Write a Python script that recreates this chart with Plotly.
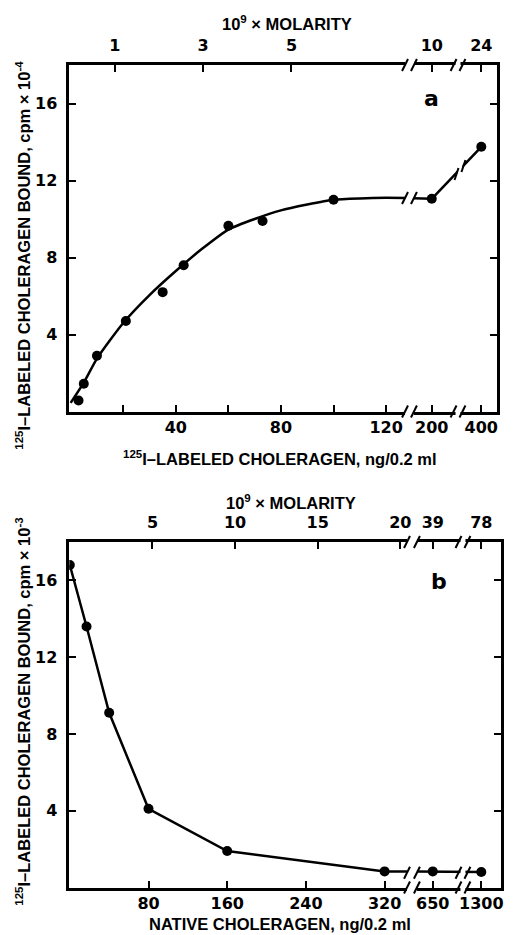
import math
import plotly.graph_objects as go

W, H = 514, 935

# ---------------- data ----------------
# Panel a: 125I-choleragen bound (cpm x 10^-4) vs. labelled choleragen added (ng/0.2 ml)
a_ng = [3, 5, 10, 21, 35, 43, 60, 73, 100, 200, 400]
a_bound = [0.57, 1.44, 2.9, 4.7, 6.2, 7.6, 9.65, 9.9, 11.0, 11.05, 13.75]

# drawn saturation curve of panel a
a_fit_ng = [0, 5, 10, 20, 30, 40, 50, 60, 70, 80, 90, 100, 110, 120, 200]
a_fit_bound = [0.45, 1.5, 2.75, 4.6, 6.05, 7.3, 8.45, 9.45, 10.0, 10.45, 10.75, 11.0, 11.07, 11.1, 11.05]

a_bottom_ticks = [40, 80, 120, 200, 400]
a_bottom_labels = ["40", "80", "120", "200", "400"]
a_bottom_minor = [20, 60, 100]
a_top_ng = [16.8, 50.4, 84, 200, 400]
a_top_molarity = ["1", "3", "5", "10", "24"]

# Panel b: 125I-choleragen bound (cpm x 10^-3) vs. native choleragen added (ng/0.2 ml)
b_ng = [0, 17, 40, 80, 160, 320, 650, 1300]
b_bound = [16.8, 13.6, 9.1, 4.1, 1.9, 0.84, 0.84, 0.81]

b_bottom_ticks = [80, 160, 240, 320, 650, 1300]
b_bottom_labels = ["80", "160", "240", "320", "650", "1300"]
b_top_ng = [84, 168, 252, 336, 650, 1300]
b_top_molarity = ["5", "10", "15", "20", "39", "78"]

y_ticks = [4, 8, 12, 16]
y_labels = ["4", "8", "12", "16"]

# ---------------- geometry (pixels in the 514 x 935 page) ----------------
def fx(px):
    return px / W


def fy(py):
    return 1 - py / H


A_TOP, A_BOT = 65, 411.5
B_TOP, B_BOT = 542, 887.5
A_SEG1, A_SEG2 = (69, 408), (417, 501)
B_SEG1, B_SEG2 = (69, 410), (420, 505)

A_RANGE1 = [-0.5, 127.2]
B_RANGE1 = [-0.5, 342.8]


def log_range(v0, p0, v1, p1, left, right):
    k = (p1 - p0) / (math.log10(v1) - math.log10(v0))
    return [math.log10(v0) - (p0 - left) / k, math.log10(v1) + (right - p1) / k]


A_RANGE2 = log_range(200, 435, 400, 485, *A_SEG2)
B_RANGE2 = log_range(650, 436, 1300, 485, *B_SEG2)
Y_RANGE = [0, 18]

BLACK = "black"
TICK_FONT = dict(family="DejaVu Sans", size=16, color=BLACK, weight="bold")
TITLE_FONT = dict(family="Liberation Sans", size=16.5, color=BLACK, weight="bold")


def x_axis(seg, rng, ticks, labels, side="bottom", anchor="y", typ="linear",
           overlaying=None, minor=None):
    ax = dict(
        domain=[fx(seg[0]), fx(seg[1])], range=rng, type=typ, side=side, anchor=anchor,
        tickmode="array", tickvals=ticks, ticktext=labels,
        showline=True, linecolor=BLACK, linewidth=2.5,
        ticks="inside", ticklen=7, tickwidth=2, tickcolor=BLACK,
        showgrid=False, zeroline=False, tickfont=TICK_FONT, fixedrange=True,
        ticklabelstandoff=0 if side == "bottom" else 5,
    )
    if minor:
        ax["minor"] = dict(tickmode="array", tickvals=minor, ticks="inside", ticklen=7,
                           tickwidth=2, tickcolor=BLACK, showgrid=False)
    if overlaying:
        ax["overlaying"] = overlaying
    return ax


def y_axis(top, bot, anchor, side="left", labels=True):
    return dict(
        domain=[fy(bot), fy(top)], range=Y_RANGE, anchor=anchor, side=side,
        tickmode="array", tickvals=y_ticks, ticktext=y_labels, showticklabels=labels,
        showline=True, linecolor=BLACK, linewidth=2.5,
        ticks="inside", ticklen=7, tickwidth=2, tickcolor=BLACK,
        showgrid=False, zeroline=False, tickfont=TICK_FONT, fixedrange=True,
        ticklabelstandoff=6,
    )


def split(xs, ys, cond):
    pts = [(x, y) for x, y in zip(xs, ys) if cond(x)]
    return [p[0] for p in pts], [p[1] for p in pts]


LINE = dict(color=BLACK, width=2.5)
MARK = dict(color=BLACK, size=10)

fig = go.Figure()

# ---- panel a ----
fig.add_trace(go.Scatter(x=a_fit_ng, y=a_fit_bound, mode="lines",
                         line=dict(color=BLACK, width=2.5, shape="spline", smoothing=0.6),
                         xaxis="x", yaxis="y", hoverinfo="skip"))
tx, ty = split(a_fit_ng, a_fit_bound, lambda v: v >= 110)
fig.add_trace(go.Scatter(x=tx, y=ty, mode="lines", line=LINE, xaxis="x2", yaxis="y2"))
px_, py_ = split(a_ng, a_bound, lambda v: v <= A_RANGE1[1])
fig.add_trace(go.Scatter(x=px_, y=py_, mode="markers", marker=MARK, xaxis="x", yaxis="y"))
px_, py_ = split(a_ng, a_bound, lambda v: v > A_RANGE1[1])
fig.add_trace(go.Scatter(x=px_, y=py_, mode="lines+markers", line=LINE, marker=MARK,
                         xaxis="x2", yaxis="y2"))
fig.add_trace(go.Scatter(x=[], y=[], xaxis="x3", yaxis="y"))
fig.add_trace(go.Scatter(x=[], y=[], xaxis="x4", yaxis="y2"))

# ---- panel b ----
fig.add_trace(go.Scatter(x=b_ng, y=b_bound, mode="lines+markers", line=LINE, marker=MARK,
                         xaxis="x5", yaxis="y3"))
px_, py_ = split(b_ng, b_bound, lambda v: v >= 320)
fig.add_trace(go.Scatter(x=px_, y=py_, mode="lines+markers", line=LINE, marker=MARK,
                         xaxis="x6", yaxis="y4"))
fig.add_trace(go.Scatter(x=[], y=[], xaxis="x7", yaxis="y3"))
fig.add_trace(go.Scatter(x=[], y=[], xaxis="x8", yaxis="y4"))


def part(ticks, labels, limit, upper):
    keep = [(t, l) for t, l in zip(ticks, labels) if (t > limit) == upper]
    return [k[0] for k in keep], [k[1] for k in keep]


a1_t, a1_l = part(a_bottom_ticks, a_bottom_labels, A_RANGE1[1], False)
a2_t, a2_l = part(a_bottom_ticks, a_bottom_labels, A_RANGE1[1], True)
at1, atl1 = part(a_top_ng, a_top_molarity, A_RANGE1[1], False)
at2, atl2 = part(a_top_ng, a_top_molarity, A_RANGE1[1], True)
b1_t, b1_l = part(b_bottom_ticks, b_bottom_labels, B_RANGE1[1], False)
b2_t, b2_l = part(b_bottom_ticks, b_bottom_labels, B_RANGE1[1], True)
bt1, btl1 = part(b_top_ng, b_top_molarity, B_RANGE1[1], False)
bt2, btl2 = part(b_top_ng, b_top_molarity, B_RANGE1[1], True)

layout = dict(
    width=W, height=H, margin=dict(l=0, r=0, t=0, b=0),
    paper_bgcolor="white", plot_bgcolor="white", showlegend=False,
    xaxis=x_axis(A_SEG1, A_RANGE1, a1_t, a1_l, anchor="y", minor=a_bottom_minor),
    xaxis2=x_axis(A_SEG2, A_RANGE2, a2_t, a2_l, anchor="y2", typ="log"),
    xaxis3=x_axis(A_SEG1, A_RANGE1, at1, atl1, side="top", anchor="y", overlaying="x"),
    xaxis4=x_axis(A_SEG2, A_RANGE2, at2, atl2, side="top", anchor="y2", typ="log", overlaying="x2"),
    yaxis=y_axis(A_TOP, A_BOT, "x"),
    yaxis2=y_axis(A_TOP, A_BOT, "x2", side="right", labels=False),
    xaxis5=x_axis(B_SEG1, B_RANGE1, b1_t, b1_l, anchor="y3"),
    xaxis6=x_axis(B_SEG2, B_RANGE2, b2_t, b2_l, anchor="y4", typ="log"),
    xaxis7=x_axis(B_SEG1, B_RANGE1, bt1, btl1, side="top", anchor="y3", overlaying="x5"),
    xaxis8=x_axis(B_SEG2, B_RANGE2, bt2, btl2, side="top", anchor="y4", typ="log", overlaying="x6"),
    yaxis3=y_axis(B_TOP, B_BOT, "x5"),
    yaxis4=y_axis(B_TOP, B_BOT, "x6", side="right", labels=False),
)
fig.update_layout(**layout)

# ---- break symbols ----
shapes = []


def white_out(x0, x1, y0, y1):
    shapes.append(dict(type="rect", xref="paper", yref="paper", layer="above",
                       x0=fx(x0), x1=fx(x1), y0=fy(y0), y1=fy(y1),
                       fillcolor="white", line=dict(width=0)))


def slash(cx, cy, dx=3, dy=6):
    shapes.append(dict(type="line", xref="paper", yref="paper", layer="above",
                       x0=fx(cx - dx), y0=fy(cy + dy), x1=fx(cx + dx), y1=fy(cy - dy),
                       line=dict(color=BLACK, width=2)))


# panel a: gap between the linear part and the 200/400 part
for cy in (A_BOT, A_TOP, 198):
    slash(A_SEG1[1], cy)
    slash(A_SEG2[0], cy)
# panel a: break between 200 and 400
for cy in (A_BOT, A_TOP):
    white_out(459, 464, cy - 6, cy + 6)
    slash(457, cy)
    slash(466, cy)
white_out(461, 466, 158, 182)
slash(460, 174, dx=2)
slash(467, 166, dx=2)

# panel b: gap after 320
for cy in (B_BOT, B_TOP, 872.8):
    slash(B_SEG1[1], cy)
    slash(B_SEG2[0], cy)
# panel b: break between 650 and 1300
for cy in (B_BOT, B_TOP, 872.8):
    white_out(464, 469, cy - 6, cy + 6)
    slash(462, cy)
    slash(471, cy)

fig.update_layout(shapes=shapes)

# ---- text ----
ann = []


def text(x, y, s, font, angle=0):
    ann.append(dict(x=fx(x), y=fy(y), xref="paper", yref="paper", text=s, showarrow=False,
                    font=font, textangle=angle, xanchor="center", yanchor="middle"))


text(289, 23, "10<sup>9</sup> × MOLARITY", TITLE_FONT)
text(282, 458, "<sup>125</sup>I–LABELED CHOLERAGEN, ng/0.2 ml", TITLE_FONT)
text(22, 255, "<sup>125</sup>I–LABELED CHOLERAGEN BOUND, cpm × 10<sup>-4</sup>", TITLE_FONT, -90)
text(435, 99, "a", dict(family="DejaVu Sans", size=22, color=BLACK, weight="bold"))

text(293, 502, "10<sup>9</sup> × MOLARITY", TITLE_FONT)
text(282, 924, "NATIVE CHOLERAGEN, ng/0.2 ml", TITLE_FONT)
text(22, 712, "<sup>125</sup>I–LABELED CHOLERAGEN BOUND, cpm × 10<sup>-3</sup>", TITLE_FONT, -90)
text(442, 581, "b", dict(family="DejaVu Sans", size=22, color=BLACK, weight="bold"))

fig.update_layout(annotations=ann)

fig.write_html("out.html")
